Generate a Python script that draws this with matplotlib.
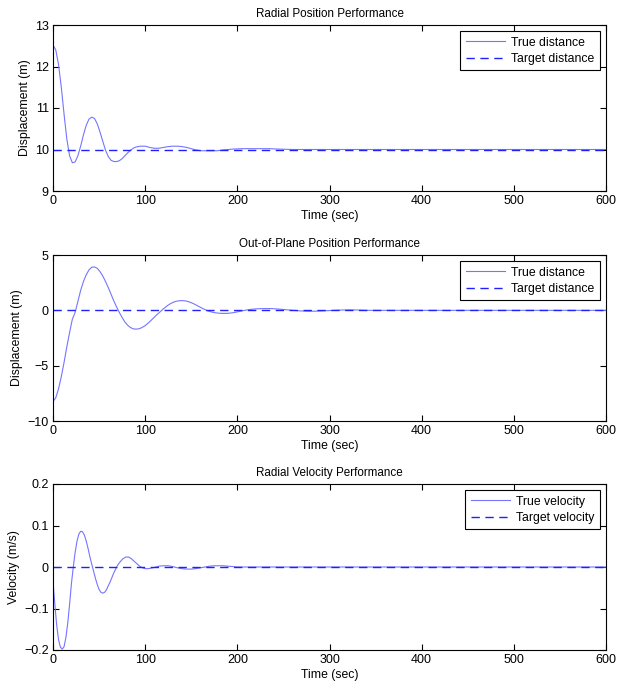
import matplotlib.pyplot as plt
import numpy as np

plt.rcParams['font.family'] = ['Liberation Sans', 'DejaVu Sans']
plt.rcParams['font.size'] = 8

# radial position (m)
t_rad = [0, 3, 6, 9, 12, 15, 18, 21, 24, 27, 30, 33, 36, 39, 42, 45, 48, 51, 54, 57,
         60, 63, 66, 69, 72, 75, 78, 81, 84, 87, 90, 95, 100, 105, 110, 115, 120, 125,
         130, 135, 140, 145, 150, 155, 160, 170, 178, 185, 195, 205, 220, 235, 245, 260, 600]
rad = [12.52, 12.40, 12.05, 11.50, 10.85, 10.25, 9.85, 9.68, 9.70, 9.85, 10.08, 10.35,
       10.58, 10.73, 10.78, 10.75, 10.62, 10.42, 10.20, 9.98, 9.83, 9.74, 9.71, 9.71,
       9.73, 9.78, 9.85, 9.92, 9.98, 10.03, 10.06, 10.08, 10.08, 10.05, 10.03, 10.03,
       10.05, 10.07, 10.08, 10.08, 10.07, 10.05, 10.02, 9.99, 9.97, 9.97, 9.97, 9.99,
       10.01, 10.02, 10.02, 10.02, 10.01, 10.0, 10.0]
rad_target = 10.0

# out-of-plane position (m)
t_oop = [0, 3, 6, 9, 12, 15, 18, 21, 24, 27, 30, 33, 36, 39, 42, 45, 48, 51, 54, 57,
         60, 63, 66, 69, 72, 75, 78, 81, 84, 87, 90, 93, 96, 100, 104, 108, 112, 116,
         120, 124, 128, 132, 136, 140, 144, 148, 152, 156, 160, 164, 168, 172, 176, 180,
         185, 190, 195, 200, 205, 210, 215, 220, 228, 236, 244, 252, 260, 268, 276, 284,
         292, 300, 310, 320, 330, 340, 600]
oop = [-8.25, -7.9, -7.1, -6.0, -4.7, -3.3, -2.0, -0.8, -0.2, 0.8, 1.8, 2.6, 3.2, 3.65,
       3.9, 3.92, 3.8, 3.5, 3.1, 2.6, 2.05, 1.45, 0.85, 0.3, -0.2, -0.65, -1.05, -1.35,
       -1.55, -1.67, -1.7, -1.67, -1.58, -1.38, -1.1, -0.78, -0.45, -0.15, 0.15, 0.42,
       0.63, 0.78, 0.86, 0.88, 0.85, 0.76, 0.62, 0.45, 0.27, 0.1, -0.05, -0.15, -0.22,
       -0.26, -0.28, -0.27, -0.22, -0.14, -0.05, 0.03, 0.09, 0.13, 0.16, 0.16, 0.12,
       0.06, 0.0, -0.05, -0.08, -0.08, -0.05, -0.02, 0.02, 0.04, 0.03, 0.0, 0.0]
oop_target = 0.0

# radial velocity (m/s)
t_vel = [0, 2, 4, 6, 8, 10, 12, 14, 16, 18, 20, 22, 24, 26, 28, 30, 32, 34, 36, 38, 40,
         42, 44, 46, 48, 50, 52, 54, 56, 58, 60, 62, 64, 66, 68, 70, 73, 76, 79, 82, 85,
         88, 91, 94, 97, 100, 103, 106, 110, 115, 120, 125, 130, 135, 140, 145, 150, 155,
         160, 165, 170, 175, 180, 185, 190, 195, 200, 210, 600]
vel = [-0.035, -0.09, -0.14, -0.175, -0.193, -0.198, -0.192, -0.17, -0.135, -0.09, -0.04,
       0.0, 0.035, 0.062, 0.079, 0.086, 0.085, 0.077, 0.063, 0.045, 0.025, 0.007, -0.01,
       -0.027, -0.042, -0.054, -0.061, -0.063, -0.061, -0.055, -0.045, -0.036, -0.025,
       -0.014, -0.005, 0.004, 0.013, 0.02, 0.024, 0.024, 0.02, 0.014, 0.008, 0.002,
       -0.002, -0.004, -0.004, -0.003, -0.001, 0.002, 0.003, 0.003, 0.001, -0.002, -0.004,
       -0.005, -0.005, -0.004, -0.002, 0.0, 0.002, 0.003, 0.003, 0.003, 0.002, 0.001,
       0.0, 0.0, 0.0]
vel_target = 0.0

t_end = 600

fig = plt.figure(figsize=(6.17, 6.85), dpi=100)
w, h = 553 / 617, 166 / 685
boxes = [[53 / 617, 1 - 191 / 685, w, h],
         [53 / 617, 1 - 421 / 685, w, h],
         [53 / 617, 1 - 650 / 685, w, h]]

panels = [
    (t_rad, rad, rad_target, 'Radial Position Performance', 'Displacement (m)',
     (9, 13), [9, 10, 11, 12, 13], ['True distance', 'Target distance'], ['9', '10', '11', '12', '13']),
    (t_oop, oop, oop_target, 'Out-of-Plane Position Performance', 'Displacement (m)',
     (-10, 5), [-10, -5, 0, 5], ['True distance', 'Target distance'], ['\u221210', '\u22125', '0', '5']),
    (t_vel, vel, vel_target, 'Radial Velocity Performance', 'Velocity (m/s)',
     (-0.2, 0.2), [-0.2, -0.1, 0, 0.1, 0.2], ['True velocity', 'Target velocity'],
     ['\u22120.2', '\u22120.1', '0', '0.1', '0.2']),
]

for box, (t, y, tgt, title, ylab, ylim, yt, labs, ytl) in zip(boxes, panels):
    ax = fig.add_axes(box)
    ax.plot(t, y, color='#7575ff', lw=0.8, label=labs[0])
    ax.plot([0, t_end], [tgt, tgt], '--', color='#2020ff', lw=1.0, dashes=(6, 4), label=labs[1])
    ax.set_xlim(0, t_end)
    ax.set_ylim(*ylim)
    ax.set_xticks(range(0, 601, 100))
    ax.set_yticks(yt)
    ax.set_yticklabels(ytl)
    ax.tick_params(direction='in', top=True, right=True, length=4, labelsize=9, pad=3)
    ax.set_title(title, fontsize=8.4, pad=6)
    ax.set_xlabel('Time (sec)', fontsize=8.8, labelpad=2)
    ax.set_ylabel(ylab, fontsize=8.8, labelpad=3)
    leg = ax.legend(loc='upper right', fontsize=8.8, fancybox=False, framealpha=1,
                    edgecolor='black', handlelength=3.2, borderpad=0.45, labelspacing=0.35,
                    borderaxespad=0.5, handletextpad=0.5)
    leg.get_frame().set_linewidth(0.8)

plt.savefig('out.png', dpi=100)
